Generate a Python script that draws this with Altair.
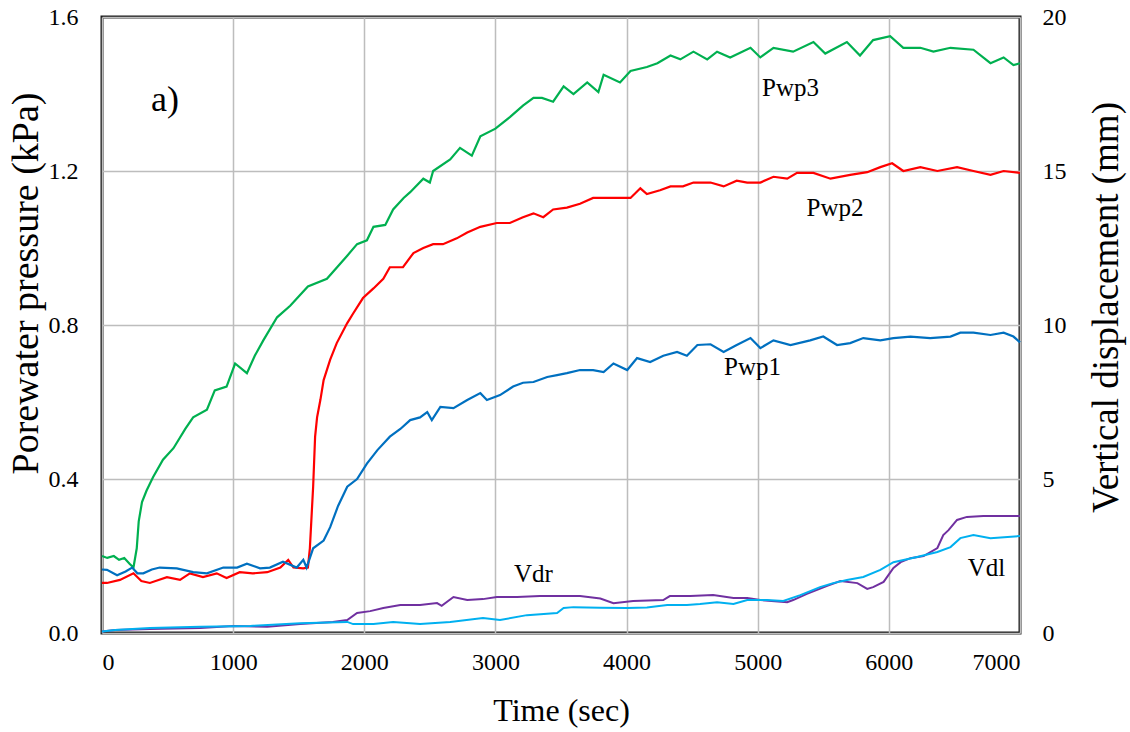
import altair as alt
import pandas as pd

# ---- porewater pressure (kPa) ----
pwp3_t = [0, 40, 90, 130, 170, 210, 240, 265, 280, 305, 340, 390, 465, 545, 635, 695, 800, 860, 950,
          1015, 1105, 1165, 1230, 1335, 1435, 1570, 1715, 1870, 1945, 2020, 2070, 2160, 2220, 2300,
          2350, 2450, 2500, 2525, 2655, 2730, 2820, 2885, 3000, 3110, 3210, 3290, 3355, 3440, 3520,
          3595, 3700, 3785, 3825, 3950, 4030, 4155, 4235, 4335, 4410, 4510, 4615, 4690, 4790, 4945,
          5020, 5120, 5270, 5425, 5515, 5680, 5780, 5880, 6010, 6110, 6240, 6340, 6470, 6645, 6775,
          6875, 6950, 7000]
pwp3_v = [0.20, 0.195, 0.20, 0.19, 0.195, 0.18, 0.17, 0.22, 0.29, 0.34, 0.37, 0.405, 0.45, 0.48, 0.53,
          0.56, 0.58, 0.63, 0.64, 0.70, 0.675, 0.72, 0.76, 0.82, 0.85, 0.90, 0.92, 0.98, 1.01, 1.02,
          1.055, 1.06, 1.10, 1.13, 1.145, 1.18, 1.17, 1.20, 1.23, 1.26, 1.24, 1.29, 1.31, 1.34, 1.37,
          1.39, 1.39, 1.38, 1.42, 1.40, 1.43, 1.405, 1.45, 1.43, 1.46, 1.47, 1.48, 1.50, 1.49, 1.51,
          1.49, 1.51, 1.495, 1.52, 1.495, 1.52, 1.51, 1.535, 1.505, 1.535, 1.50, 1.54, 1.55, 1.52,
          1.52, 1.51, 1.52, 1.515, 1.48, 1.495, 1.475, 1.48]

pwp2_t = [0, 38, 137, 240, 300, 365, 495, 595, 670, 770, 875, 950, 1050, 1150, 1260, 1360, 1420, 1460,
          1535, 1570, 1585, 1610, 1625, 1640, 1665, 1690, 1740, 1790, 1870, 1915, 1990, 2070, 2145,
          2195, 2295, 2375, 2450, 2525, 2600, 2705, 2785, 2885, 3010, 3110, 3210, 3290, 3365, 3440,
          3545, 3645, 3745, 3850, 3950, 4030, 4105, 4155, 4255, 4335, 4430, 4510, 4640, 4740, 4840,
          4920, 5020, 5120, 5225, 5300, 5425, 5555, 5705, 5835, 5935, 6025, 6110, 6240, 6370, 6520,
          6645, 6775, 6875, 7000]
pwp2_v = [0.13, 0.13, 0.138, 0.155, 0.135, 0.13, 0.145, 0.138, 0.155, 0.145, 0.155, 0.143, 0.158,
          0.155, 0.158, 0.17, 0.19, 0.17, 0.168, 0.17, 0.22, 0.38, 0.51, 0.56, 0.605, 0.657, 0.71,
          0.753, 0.805, 0.83, 0.87, 0.895, 0.92, 0.95, 0.95, 0.987, 1.00, 1.01, 1.01, 1.025, 1.04,
          1.055, 1.065, 1.065, 1.08, 1.09, 1.08, 1.10, 1.105, 1.115, 1.13, 1.13, 1.13, 1.13, 1.155,
          1.14, 1.15, 1.16, 1.16, 1.17, 1.17, 1.16, 1.175, 1.17, 1.17, 1.185, 1.18, 1.195, 1.195,
          1.18, 1.19, 1.197, 1.21, 1.22, 1.20, 1.21, 1.20, 1.21, 1.20, 1.19, 1.20, 1.195]

pwp1_t = [0, 38, 115, 180, 230, 270, 315, 380, 440, 570, 695, 800, 925, 1030, 1105, 1205, 1280, 1380,
          1485, 1535, 1560, 1610, 1690, 1740, 1800, 1870, 1945, 2020, 2100, 2195, 2275, 2350, 2425,
          2480, 2515, 2580, 2680, 2785, 2885, 2935, 3035, 3135, 3210, 3290, 3395, 3470, 3545, 3645,
          3745, 3825, 3900, 4005, 4080, 4180, 4280, 4385, 4460, 4540, 4640, 4740, 4840, 4945, 5020,
          5120, 5250, 5400, 5500, 5605, 5705, 5805, 5935, 6035, 6165, 6315, 6470, 6545, 6645, 6775,
          6875, 6950, 7000]
pwp1_v = [0.165, 0.164, 0.15, 0.16, 0.17, 0.155, 0.155, 0.165, 0.17, 0.168, 0.158, 0.155, 0.17, 0.17,
          0.18, 0.168, 0.17, 0.185, 0.17, 0.19, 0.17, 0.22, 0.24, 0.275, 0.33, 0.38, 0.40, 0.44,
          0.475, 0.51, 0.53, 0.553, 0.56, 0.574, 0.553, 0.587, 0.584, 0.605, 0.623, 0.605, 0.618,
          0.64, 0.65, 0.652, 0.665, 0.67, 0.675, 0.683, 0.683, 0.678, 0.70, 0.683, 0.714, 0.704,
          0.72, 0.73, 0.72, 0.748, 0.75, 0.73, 0.748, 0.766, 0.74, 0.76, 0.748, 0.76, 0.77, 0.748,
          0.753, 0.766, 0.76, 0.766, 0.77, 0.766, 0.77, 0.78, 0.78, 0.774, 0.78, 0.77, 0.755]

# ---- vertical displacement (mm) ----
vdr_t = [0, 100, 365, 750, 1000, 1260, 1510, 1760, 1870, 1945, 2045, 2145, 2275, 2425, 2555, 2590,
         2680, 2785, 2905, 3010, 3165, 3340, 3495, 3645, 3800, 3900, 4050, 4280, 4330, 4485, 4660,
         4815, 4920, 5020, 5225, 5270, 5375, 5530, 5630, 5760, 5835, 5880, 5960, 6035, 6090, 6165,
         6265, 6370, 6415, 6455, 6520, 6595, 6720, 6850, 7000]
vdr_v = [0.05, 0.1, 0.13, 0.16, 0.23, 0.2, 0.29, 0.36, 0.42, 0.65, 0.71, 0.81, 0.91, 0.91, 0.97, 0.88,
         1.17, 1.07, 1.10, 1.17, 1.17, 1.2, 1.2, 1.2, 1.12, 0.97, 1.04, 1.07, 1.2, 1.2, 1.23, 1.14,
         1.14, 1.07, 1.0, 1.07, 1.27, 1.53, 1.69, 1.62, 1.43, 1.49, 1.66, 2.11, 2.3, 2.43, 2.5, 2.76,
         3.18, 3.34, 3.67, 3.77, 3.8, 3.8, 3.8]

vdl_t = [0, 100, 365, 750, 1130, 1510, 1870, 1915, 2070, 2220, 2350, 2425, 2655, 2905, 3035, 3240,
         3470, 3520, 3595, 3800, 4005, 4155, 4310, 4460, 4560, 4690, 4815, 4920, 5070, 5195, 5325,
         5475, 5575, 5680, 5805, 5935, 6035, 6215, 6370, 6470, 6545, 6645, 6775, 6905, 7000]
vdl_v = [0.05, 0.1, 0.16, 0.2, 0.23, 0.32, 0.36, 0.29, 0.29, 0.36, 0.32, 0.29, 0.36, 0.49, 0.42, 0.58,
         0.65, 0.81, 0.84, 0.82, 0.81, 0.83, 0.91, 0.91, 0.94, 1.0, 0.94, 1.07, 1.07, 1.04, 1.23,
         1.49, 1.62, 1.72, 1.82, 2.05, 2.3, 2.47, 2.63, 2.79, 3.08, 3.18, 3.08, 3.12, 3.15]

# ---- curve labels ----
pwp_label_text = ["Pwp3", "Pwp2", "Pwp1"]
pwp_label_t = [5250, 5590, 4960]
pwp_label_v = [1.416, 1.104, 0.691]
vd_label_text = ["Vdr", "Vdl"]
vd_label_t = [3290, 6745]
vd_label_v = [1.92, 2.11]

series_names = ["Pwp1", "Pwp2", "Pwp3", "Vdr", "Vdl"]
series_colors = ["#0070c0", "#ff0000", "#00b050", "#7030a0", "#00b0f0"]

x_ticks = [0, 1000, 2000, 3000, 4000, 5000, 6000, 7000]
left_ticks = [0.0, 0.4, 0.8, 1.2, 1.6]
right_ticks = [0, 5, 10, 15, 20]

FONT = "Liberation Serif"
axis_text = dict(labelFont=FONT, titleFont=FONT, labelFontSize=24,
                 titleFontWeight="normal", labelColor="black", titleColor="black",
                 ticks=False, tickSize=0, domain=False)


def series_frame(name, t, v):
    return pd.DataFrame({"t": t, "value": v, "series": name})


pwp_df = pd.concat([
    series_frame("Pwp3", pwp3_t, pwp3_v),
    series_frame("Pwp2", pwp2_t, pwp2_v),
    series_frame("Pwp1", pwp1_t, pwp1_v),
])
vd_df = pd.concat([
    series_frame("Vdr", vdr_t, vdr_v),
    series_frame("Vdl", vdl_t, vdl_v),
])
pwp_lab = pd.DataFrame({"t": pwp_label_t, "value": pwp_label_v, "label": pwp_label_text})
vd_lab = pd.DataFrame({"t": vd_label_t, "value": vd_label_v, "label": vd_label_text})
panel_lab = pd.DataFrame({"t": [480], "value": [1.384], "label": ["a)"]})

x_enc = alt.X(
    "t:Q",
    scale=alt.Scale(domain=[0, 7000], nice=False, zero=False),
    axis=alt.Axis(values=x_ticks, format="d", title="Time (sec)", grid=True, labelPadding=17,
                  titleX=459, titleY=77, titleBaseline="middle", titleFontSize=32, **axis_text),
)
y_left = alt.Y(
    "value:Q",
    scale=alt.Scale(domain=[0, 1.6], nice=False),
    axis=alt.Axis(values=left_ticks, format=".1f", title="Porewater pressure (kPa)",
                  orient="left", grid=True, labelPadding=24, titleFontSize=38,
                  titleX=-76, titleY=266, titleBaseline="middle", titleAngle=270, **axis_text),
)
y_right = alt.Y(
    "value:Q",
    scale=alt.Scale(domain=[0, 20], nice=False),
    axis=alt.Axis(values=right_ticks, format="d", title="Vertical displacement (mm)",
                  orient="right", grid=False, labelPadding=22, titleFontSize=37,
                  titleX=86, titleY=290, titleBaseline="middle", titleAngle=270, **axis_text),
)
color = alt.Color("series:N", scale=alt.Scale(domain=series_names, range=series_colors), legend=None)

pwp_lines = alt.Chart(pwp_df).mark_line(strokeWidth=2.2).encode(x=x_enc, y=y_left, color=color)
pwp_text = alt.Chart(pwp_lab).mark_text(font=FONT, fontSize=25, color="black").encode(
    x=x_enc, y=y_left, text="label:N")
panel_text = alt.Chart(panel_lab).mark_text(font=FONT, fontSize=36, color="black").encode(
    x=x_enc, y=y_left, text="label:N")

vd_lines = alt.Chart(vd_df).mark_line(strokeWidth=2).encode(x=x_enc, y=y_right, color=color)
vd_text = alt.Chart(vd_lab).mark_text(font=FONT, fontSize=25, color="black").encode(
    x=x_enc, y=y_right, text="label:N")

left = alt.layer(pwp_lines, pwp_text, panel_text)
right = alt.layer(vd_lines, vd_text)

chart = (
    alt.layer(left, right)
    .resolve_scale(y="independent")
    .properties(
        width=918,
        height=616,
        autosize=alt.AutoSizeParams(type="none"),
        padding={"left": 102, "top": 17, "right": 110, "bottom": 99},
    )
    .configure_view(stroke="#1a1a1a", strokeWidth=3)
    .configure_axis(gridColor="#bdbdbd", gridWidth=1.5, gridOpacity=1, **axis_text)
)

chart.save("out.html", embed_options={"renderer": "svg", "actions": False})
